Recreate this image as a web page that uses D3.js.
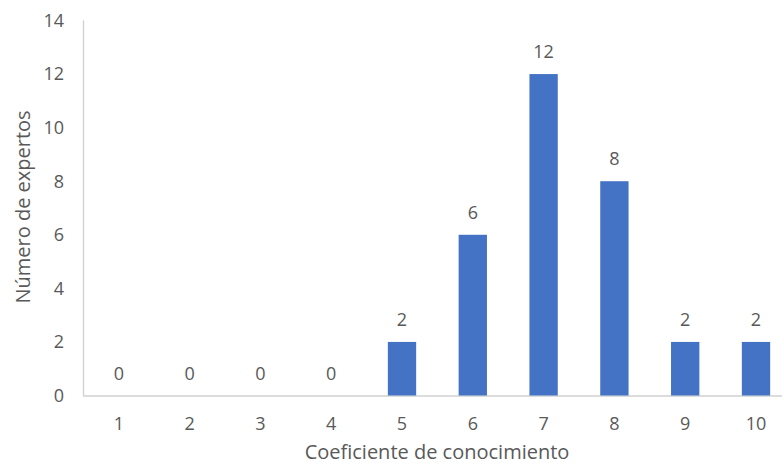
<!DOCTYPE html>
<html><head><meta charset="utf-8">
<script src="https://cdn.jsdelivr.net/npm/d3@7"></script>
<style>body{margin:0;background:#fff}svg{display:block}text{font-family:"Open Sans",sans-serif;fill:#595959}</style>
</head><body><svg id="c" width="782" height="465"></svg>
<script>
const categories = ["1","2","3","4","5","6","7","8","9","10"];
const values = [0,0,0,0,2,6,12,8,2,2];
const yTicks = [0,2,4,6,8,10,12,14];
const xTitle = "Coeficiente de conocimiento";
const yTitle = "Número de expertos";

const svg = d3.select("#c");
const x = d3.scaleBand().domain(categories).range([83.4, 791.4]).paddingInner(0.6).paddingOuter(0.3);
const y = d3.scaleLinear().domain([0,14]).range([395.5, 20.5]);

svg.append("line").attr("x1",83.5).attr("x2",83.5).attr("y1",y(14)).attr("y2",y(0)).attr("stroke","#d0d0d0").attr("stroke-width",1.3);
svg.append("line").attr("x1",83).attr("x2",782).attr("y1",y(0)+0.5).attr("y2",y(0)+0.5).attr("stroke","#d0d0d0").attr("stroke-width",1.3);

svg.selectAll("rect.bar").data(values).join("rect").attr("class","bar")
  .attr("x",(d,i)=>x(categories[i])).attr("width",x.bandwidth())
  .attr("y",d=>y(d)).attr("height",d=>y(0)-y(d)).attr("fill","#4472C4");

svg.selectAll("text.lbl").data(values).join("text").attr("class","lbl")
  .attr("x",(d,i)=>x(categories[i])+x.bandwidth()/2).attr("y",d=>y(d)-16)
  .attr("text-anchor","middle").attr("font-size",18).text(d=>d);

svg.selectAll("text.xt").data(categories).join("text").attr("class","xt")
  .attr("x",d=>x(d)+x.bandwidth()/2).attr("y",430)
  .attr("text-anchor","middle").attr("font-size",18).text(d=>d);

svg.selectAll("text.yt").data(yTicks).join("text").attr("class","yt")
  .attr("x",64).attr("y",d=>y(d)).attr("dy","0.35em")
  .attr("text-anchor","end").attr("font-size",18).text(d=>d);

svg.append("text").attr("x",437).attr("y",459).attr("text-anchor","middle").attr("font-size",20).text(xTitle);
svg.append("text").attr("transform","translate(30,207) rotate(-90)").attr("text-anchor","middle").attr("font-size",20).text(yTitle);
</script></body></html>
